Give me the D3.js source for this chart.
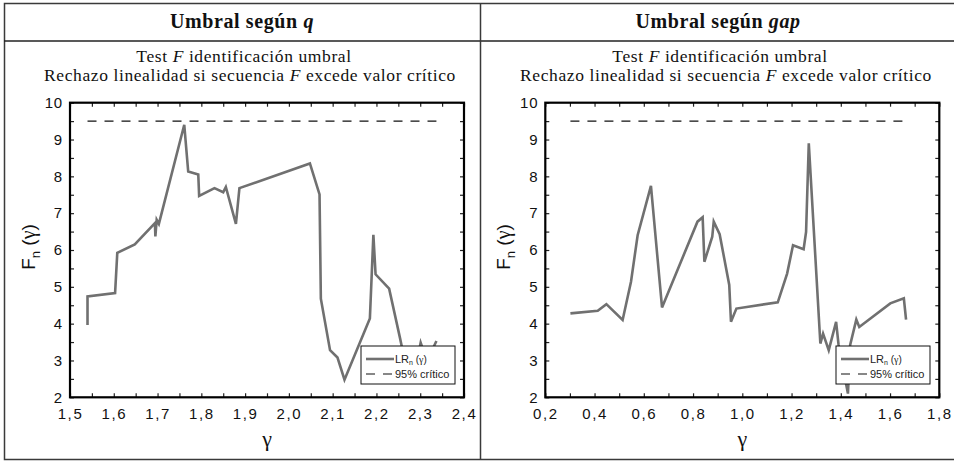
<!DOCTYPE html>
<html>
<head>
<meta charset="utf-8">
<script src="https://cdn.jsdelivr.net/npm/d3@7"></script>
<style>
  body { margin: 0; background: #fff; }
  svg { display: block; }
</style>
</head>
<body>
<div id="chart"></div>
<script>
// Data
const qGamma = [1.540, 1.540, 1.603, 1.608, 1.648, 1.694, 1.695, 1.698, 1.703, 1.761, 1.770, 1.793,
  1.795, 1.830, 1.850, 1.856, 1.879, 1.887, 2.048, 2.070, 2.073, 2.094, 2.111, 2.127, 2.185, 2.193,
  2.198, 2.229, 2.254, 2.258, 2.275, 2.292, 2.301, 2.312, 2.326, 2.337];
const qF = [3.96, 4.74, 4.83, 5.92, 6.15, 6.73, 6.37, 6.82, 6.71, 9.40, 8.13, 8.05,
  7.47, 7.68, 7.57, 7.71, 6.71, 7.68, 8.35, 7.51, 4.68, 3.28, 3.08, 2.48, 4.14, 6.41,
  5.34, 4.95, 3.60, 3.37, 3.05, 2.95, 3.48, 3.10, 3.25, 3.53];

const gapGamma = [0.302, 0.413, 0.448, 0.514, 0.548, 0.575, 0.629, 0.674, 0.818, 0.839, 0.846, 0.878,
  0.884, 0.908, 0.947, 0.954, 0.976, 1.144, 1.182, 1.206, 1.249, 1.259, 1.270, 1.317, 1.328, 1.351,
  1.381, 1.391, 1.429, 1.438, 1.463, 1.475, 1.601, 1.656, 1.665];
const gapF = [4.28, 4.35, 4.53, 4.10, 5.14, 6.40, 7.74, 4.44, 6.77, 6.89, 5.68, 6.36,
  6.77, 6.43, 5.05, 4.05, 4.41, 4.58, 5.36, 6.13, 6.02, 6.49, 8.90, 3.46, 3.73, 3.28,
  4.05, 3.42, 2.10, 3.42, 4.11, 3.91, 4.55, 4.69, 4.11];

const criticalValue = 9.5;
const yTicks = [2, 3, 4, 5, 6, 7, 8, 9, 10];
const qTicks = [1.5, 1.6, 1.7, 1.8, 1.9, 2.0, 2.1, 2.2, 2.3, 2.4];
const gapTicks = [0.2, 0.4, 0.6, 0.8, 1.0, 1.2, 1.4, 1.6, 1.8];
const legendLabels = ["LR", "95% crítico"];

const width = 954, height = 461;
const plotTop = 102.7, plotBottom = 397.3;
const serif = "Liberation Serif, Times New Roman, serif";
const sans = "Liberation Sans, Arial, sans-serif";

const svg = d3.select("#chart").append("svg")
  .attr("width", width)
  .attr("height", height);

// table frame (no right border visible in the picture)
const tbl = svg.append("g").attr("fill", "none").attr("stroke", "#3a3a3a").attr("stroke-width", 1.5);
tbl.append("path").attr("d", "M954,3.5H4.5V459.5H954");
tbl.append("line").attr("x1", 4).attr("x2", 954).attr("y1", 41).attr("y2", 41).attr("stroke", "#222");
tbl.append("line").attr("x1", 480.5).attr("x2", 480.5).attr("y1", 3).attr("y2", 459.5);

const fmt = d => d3.format(".1f")(d).replace(".", ",");

function drawPanel(cfg) {
  const cx = cfg.cellCenter;

  // headers
  const title = svg.append("text")
    .attr("x", cx).attr("y", 28)
    .attr("text-anchor", "middle")
    .attr("font-family", serif)
    .attr("font-weight", "bold")
    .attr("font-size", 20)
    .attr("letter-spacing", 0.6)
    .attr("fill", "#111");
  title.append("tspan").text("Umbral según ");
  title.append("tspan").attr("font-style", "italic").text(cfg.name);

  const sub1 = svg.append("text")
    .attr("x", cx + 2).attr("y", 62)
    .attr("text-anchor", "middle")
    .attr("font-family", serif)
    .attr("font-size", 17.5)
    .attr("letter-spacing", 0.6)
    .attr("fill", "#111");
  sub1.append("tspan").text("Test ");
  sub1.append("tspan").attr("font-style", "italic").text("F");
  sub1.append("tspan").text(" identificación umbral");

  const sub2 = svg.append("text")
    .attr("x", cx + 8).attr("y", 81)
    .attr("text-anchor", "middle")
    .attr("font-family", serif)
    .attr("font-size", 17.5)
    .attr("letter-spacing", 0.6)
    .attr("fill", "#111");
  sub2.append("tspan").text("Rechazo linealidad si secuencia ");
  sub2.append("tspan").attr("font-style", "italic").text("F");
  sub2.append("tspan").text(" excede valor crítico");

  const x = d3.scaleLinear().domain(cfg.domain).range([cfg.left, cfg.right]);
  const y = d3.scaleLinear().domain([2, 10]).range([plotBottom, plotTop]);

  const minorX = d3.range(cfg.domain[0], cfg.domain[1] + 1e-9, cfg.minor);
  const minorY = d3.range(2, 10.0001, 0.5);

  // bottom ticks + labels
  svg.append("g")
    .attr("transform", `translate(0,${plotBottom})`)
    .call(d3.axisBottom(x).tickValues(minorX).tickSize(-4).tickFormat(""))
    .call(g => g.select(".domain").remove());
  svg.append("g")
    .attr("transform", `translate(0,${plotBottom})`)
    .call(d3.axisBottom(x).tickValues(cfg.ticks).tickSize(0).tickPadding(11).tickFormat(fmt))
    .call(g => g.select(".domain").remove())
    .call(g => g.selectAll("text")
      .attr("font-family", sans).attr("font-size", 15).attr("letter-spacing", 1.6).attr("fill", "#111"));

  // top ticks
  svg.append("g")
    .attr("transform", `translate(0,${plotTop})`)
    .call(d3.axisTop(x).tickValues(minorX).tickSize(-4).tickFormat(""))
    .call(g => g.select(".domain").remove());

  // left ticks + labels
  svg.append("g")
    .attr("transform", `translate(${cfg.left},0)`)
    .call(d3.axisLeft(y).tickValues(minorY).tickSize(-4).tickFormat(""))
    .call(g => g.select(".domain").remove());
  svg.append("g")
    .attr("transform", `translate(${cfg.left},0)`)
    .call(d3.axisLeft(y).tickValues(yTicks).tickSize(0).tickPadding(7).tickFormat(d3.format("d")))
    .call(g => g.select(".domain").remove())
    .call(g => g.selectAll("text")
      .attr("font-family", sans).attr("font-size", 15).attr("letter-spacing", 0.8).attr("fill", "#111"));

  // right ticks
  svg.append("g")
    .attr("transform", `translate(${cfg.right},0)`)
    .call(d3.axisRight(y).tickValues(minorY).tickSize(-4).tickFormat(""))
    .call(g => g.select(".domain").remove());

  svg.selectAll(".tick line").attr("stroke", "#222").attr("stroke-width", 1.2);

  // axis titles
  const yl = svg.append("text")
    .attr("transform", `translate(${cfg.left - 35},${(plotTop + plotBottom) / 2 - 3}) rotate(-90)`)
    .attr("text-anchor", "middle")
    .attr("font-family", sans)
    .attr("font-size", 19)
    .attr("fill", "#111");
  yl.append("tspan").text("F");
  yl.append("tspan").attr("font-size", 13).attr("dy", 5).text("n");
  yl.append("tspan").attr("dy", -5).text(" (");
  yl.append("tspan").attr("font-family", serif).attr("font-size", 20).text("γ");
  yl.append("tspan").text(")");

  svg.append("text")
    .attr("x", x((cfg.domain[0] + cfg.domain[1]) / 2)).attr("y", 446)
    .attr("text-anchor", "middle")
    .attr("font-family", serif)
    .attr("font-size", 22)
    .attr("fill", "#111")
    .text("γ");

  // series
  const pts = d3.zip(cfg.gamma, cfg.values);
  const line = d3.line().x(d => x(d[0])).y(d => y(d[1]));

  svg.append("path")
    .datum(pts)
    .attr("fill", "none")
    .attr("stroke", "#707070")
    .attr("stroke-width", 2.6)
    .attr("stroke-linejoin", "miter")
    .attr("d", line);

  const crit = d3.extent(cfg.gamma).map(g => [g, criticalValue]);
  svg.append("path")
    .datum(crit)
    .attr("fill", "none")
    .attr("stroke", "#111")
    .attr("stroke-width", 1.2)
    .attr("stroke-dasharray", "9,8")
    .attr("d", line);

  // frame
  svg.append("rect")
    .attr("x", cfg.left).attr("y", plotTop)
    .attr("width", cfg.right - cfg.left).attr("height", plotBottom - plotTop)
    .attr("fill", "none").attr("stroke", "#000").attr("stroke-width", 2.2);

  // legend
  const lg = svg.append("g").attr("transform", `translate(${cfg.legendX},346)`);
  lg.append("rect").attr("width", 94).attr("height", 38)
    .attr("fill", "#fff").attr("stroke", "#111").attr("stroke-width", 1);
  lg.append("line").attr("x1", 5).attr("x2", 33).attr("y1", 13).attr("y2", 13)
    .attr("stroke", "#707070").attr("stroke-width", 2.6);
  lg.append("line").attr("x1", 5).attr("x2", 33).attr("y1", 28).attr("y2", 28)
    .attr("stroke", "#111").attr("stroke-width", 1.2).attr("stroke-dasharray", "9,8");
  const t1 = lg.append("text").attr("x", 34).attr("y", 17)
    .attr("font-family", sans).attr("font-size", 11).attr("fill", "#222");
  t1.append("tspan").text(legendLabels[0]);
  t1.append("tspan").attr("font-size", 7).attr("dy", 2).text("n");
  t1.append("tspan").attr("font-size", 10).attr("dy", -2).text(" (");
  t1.append("tspan").attr("font-size", 10).attr("font-family", serif).text("γ");
  t1.append("tspan").attr("font-size", 10).text(")");
  lg.append("text").attr("x", 34).attr("y", 32)
    .attr("font-family", sans).attr("font-size", 11).attr("fill", "#222")
    .text(legendLabels[1]);
}

drawPanel({
  name: "q", gamma: qGamma, values: qF, domain: [1.5, 2.4], ticks: qTicks, minor: 0.05,
  left: 70, right: 464, legendX: 361, cellCenter: 242
});
drawPanel({
  name: "gap", gamma: gapGamma, values: gapF, domain: [0.2, 1.8], ticks: gapTicks, minor: 0.1,
  left: 545.3, right: 939.3, legendX: 836, cellCenter: 718
});
</script>
</body>
</html>
